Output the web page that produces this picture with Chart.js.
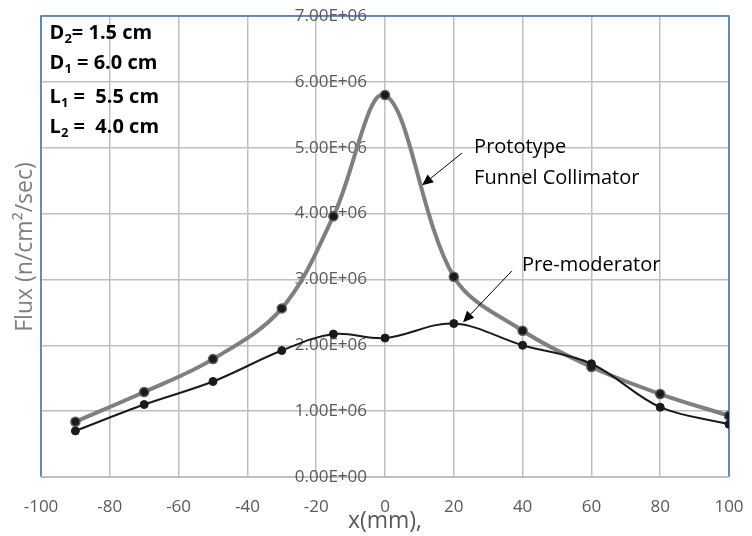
<!DOCTYPE html>
<html>
<head>
<meta charset="utf-8">
<script src="https://cdn.jsdelivr.net/npm/chart.js@4"></script>
<style>
  html, body { margin: 0; padding: 0; background: #fff; }
  #wrap { width: 752px; height: 536px; }
</style>
</head>
<body>
<div id="wrap"><canvas id="chart" width="752" height="536"></canvas></div>
<script>
// data
const xPositions = [-90, -70, -50, -30, -15, 0, 20, 40, 60, 80, 100];
const prototypeFlux = [0.84e6, 1.29e6, 1.79e6, 2.56e6, 3.96e6, 5.80e6, 3.04e6, 2.22e6, 1.67e6, 1.26e6, 0.93e6];
const premoderatorFlux = [0.70e6, 1.10e6, 1.45e6, 1.92e6, 2.17e6, 2.11e6, 2.33e6, 2.00e6, 1.72e6, 1.06e6, 0.80e6];
const yTicks = [0, 1e6, 2e6, 3e6, 4e6, 5e6, 6e6, 7e6];
const yTickLabels = ['0.00E+00', '1.00E+06', '2.00E+06', '3.00E+06', '4.00E+06', '5.00E+06', '6.00E+06', '7.00E+06'];
const paramLines = [
  [['D', false], ['2', true], ['= 1.5 cm', false]],
  [['D', false], ['1', true], [' = 6.0 cm', false]],
  [['L', false], ['1', true], [' =  5.5 cm', false]],
  [['L', false], ['2', true], [' =  4.0 cm', false]]
];
const paramY = [6.74e6, 6.28e6, 5.77e6, 5.31e6];

const FONT = '"Open Sans", Lato, sans-serif';

const toPts = (vals) => vals.map((v, i) => ({ x: xPositions[i], y: v }));

function arrow(ctx, x1, y1, x2, y2) {
  const a = Math.atan2(y2 - y1, x2 - x1);
  const h = 11, w = 5;
  ctx.save();
  ctx.strokeStyle = '#000';
  ctx.fillStyle = '#000';
  ctx.lineWidth = 1;
  ctx.beginPath();
  ctx.moveTo(x1, y1);
  ctx.lineTo(x2 - Math.cos(a) * h * 0.8, y2 - Math.sin(a) * h * 0.8);
  ctx.stroke();
  ctx.beginPath();
  ctx.moveTo(x2, y2);
  ctx.lineTo(x2 - h * Math.cos(a) + w * Math.sin(a), y2 - h * Math.sin(a) - w * Math.cos(a));
  ctx.lineTo(x2 - h * Math.cos(a) - w * Math.sin(a), y2 - h * Math.sin(a) + w * Math.cos(a));
  ctx.closePath();
  ctx.fill();
  ctx.restore();
}

const extras = {
  id: 'extras',
  beforeDatasetsDraw(chart) {
    const { ctx, chartArea: a, scales: { x, y } } = chart;
    ctx.save();
    // plot frame: blue on top/left/right, grey along the bottom
    ctx.strokeStyle = '#4472c4';
    ctx.lineWidth = 1.5;
    ctx.beginPath();
    ctx.moveTo(a.left, a.bottom);
    ctx.lineTo(a.left, a.top);
    ctx.lineTo(a.right, a.top);
    ctx.lineTo(a.right, a.bottom);
    ctx.stroke();
    ctx.strokeStyle = '#bfbfbf';
    ctx.lineWidth = 2;
    ctx.beginPath();
    ctx.moveTo(a.left, a.bottom);
    ctx.lineTo(a.right, a.bottom);
    ctx.stroke();
    // y tick labels sit just left of the x = 0 axis
    ctx.fillStyle = '#595959';
    ctx.font = '17px ' + FONT;
    ctx.textAlign = 'right';
    ctx.textBaseline = 'middle';
    const ax = x.getPixelForValue(0) - 18;
    yTicks.forEach((v, i) => ctx.fillText(yTickLabels[i], ax, y.getPixelForValue(v)));
    ctx.restore();
  },
  afterDraw(chart) {
    const { ctx, scales: { x, y } } = chart;
    ctx.save();
    // parameter block
    ctx.fillStyle = '#000';
    ctx.textBaseline = 'middle';
    paramLines.forEach((parts, i) => {
      let px = x.getPixelForValue(-97.5);
      const py = y.getPixelForValue(paramY[i]);
      parts.forEach(([t, sub]) => {
        ctx.font = (sub ? 'bold 13px ' : 'bold 20px ') + FONT;
        ctx.fillText(t, px, sub ? py + 6 : py);
        px += ctx.measureText(t).width;
      });
    });
    // curve labels
    ctx.font = '20px ' + FONT;
    ctx.fillText('Prototype', x.getPixelForValue(25.9), y.getPixelForValue(5.01e6));
    ctx.fillText('Funnel Collimator', x.getPixelForValue(25.9), y.getPixelForValue(4.54e6));
    ctx.fillText('Pre-moderator', x.getPixelForValue(39.8), y.getPixelForValue(3.22e6));
    arrow(ctx, x.getPixelForValue(22.4), y.getPixelForValue(4.92e6), x.getPixelForValue(10.8), y.getPixelForValue(4.43e6));
    arrow(ctx, x.getPixelForValue(36.9), y.getPixelForValue(3.13e6), x.getPixelForValue(22.7), y.getPixelForValue(2.35e6));
    // axis titles
    ctx.fillStyle = '#7f7f7f';
    ctx.textAlign = 'center';
    ctx.font = '23px ' + FONT;
    ctx.translate(25, 247);
    ctx.rotate(-Math.PI / 2);
    ctx.fillText('Flux (n/cm\u00b2/sec)', 0, 0);
    ctx.setTransform(1, 0, 0, 1, 0, 0);
    ctx.fillStyle = '#595959';
    ctx.font = '23px ' + FONT;
    ctx.fillText('x(mm),', x.getPixelForValue(0), 521);
    ctx.restore();
  }
};

new Chart(document.getElementById('chart'), {
  type: 'line',
  data: {
    datasets: [
      {
        label: 'Pre-moderator',
        data: toPts(premoderatorFlux),
        borderColor: '#1a1a1a',
        borderWidth: 2,
        pointRadius: 4,
        pointBackgroundColor: '#1a1a1a',
        pointBorderColor: '#1a1a1a',
        pointBorderWidth: 1,
        tension: 0.35,
        order: 0
      },
      {
        label: 'Prototype Funnel Collimator',
        data: toPts(prototypeFlux),
        borderColor: '#7f7f7f',
        borderWidth: 4,
        pointRadius: 4.5,
        pointBackgroundColor: '#1a1a1a',
        pointBorderColor: '#5a5a5a',
        pointBorderWidth: 1.5,
        tension: 0.35,
        order: 1
      }
    ]
  },
  options: {
    responsive: false,
    animation: false,
    layout: { padding: { left: 41, right: 23, top: 16, bottom: 0 } },
    plugins: { legend: { display: false }, tooltip: { enabled: false } },
    scales: {
      x: {
        type: 'linear',
        min: -100,
        max: 100,
        afterFit: (s) => { s.height = 59; s.paddingLeft = 0; s.paddingRight = 0; },
        ticks: { stepSize: 20, padding: 20, color: '#595959', font: { family: FONT, size: 17 } },
        grid: { color: '#bfbfbf', lineWidth: 1.5, drawTicks: false },
        border: { display: false }
      },
      y: {
        position: { x: 0 },
        min: 0,
        max: 7e6,
        ticks: { stepSize: 1e6, display: false },
        grid: { color: '#bfbfbf', lineWidth: 1.5, drawTicks: false },
        border: { display: false }
      }
    }
  },
  plugins: [extras]
});
</script>
</body>
</html>
